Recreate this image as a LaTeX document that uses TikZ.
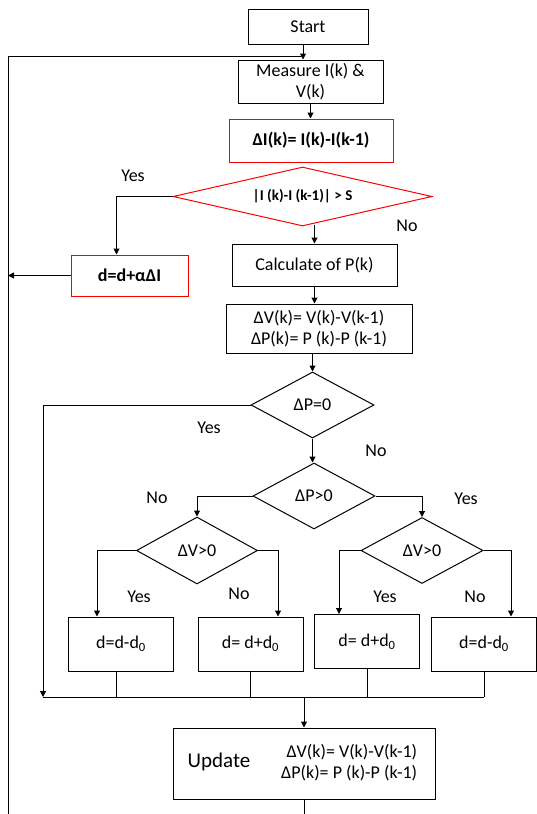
\documentclass[tikz,border=0pt]{standalone}
\usepackage{fontspec}
\setmainfont{Carlito}
\usetikzlibrary{shapes.geometric,arrows.meta}

\begin{document}
\begin{tikzpicture}[x=1pt,y=-1pt,
		font=\fontsize{18}{21}\selectfont,
		>={Triangle[length=6pt,width=6pt]},
		line width=1pt,
		box/.style={draw, rectangle, align=center, inner sep=0pt},
		redbox/.style={box, draw=red, font=\fontsize{18}{21}\selectfont\bfseries},
		dec/.style={draw, diamond, inner sep=0pt, align=center, shape aspect=1.85}]
		\useasboundingbox (0,0) rectangle (536,814);

		\node[box, minimum width=120pt, minimum height=35pt] (start) at (308,27) {Start};
		\node[box, minimum width=145pt, minimum height=43pt] (measure) at (310.5,81.5) {Measure I(k) \&\\V(k)};
		\node[redbox, minimum width=164pt, minimum height=43pt] (dI) at (311,140.5) {ΔI(k)= I(k)-I(k-1)};
		\node[dec, draw=red, shape aspect=4.4, minimum width=259pt, minimum height=59pt, font=\fontsize{15}{17}\selectfont\bfseries] (dec1) at (302.5,196.5) {|I (k)-I (k-1)| > S};
		\node[redbox, minimum width=117pt, minimum height=41pt] (dalpha) at (129.5,275.5) {d=d+αΔI};
		\node[box, minimum width=165pt, minimum height=42pt] (calc) at (314.5,265) {Calculate of P(k)};
		\node[box, minimum width=186pt, minimum height=49pt] (dvdp) at (319,328.5) {ΔV(k)= V(k)-V(k-1)\\ΔP(k)= P (k)-P (k-1)};
		\node[dec, minimum width=123pt, minimum height=66pt] (dpz) at (312.5,405) {ΔP=0};
		\node[dec, minimum width=122pt, minimum height=66pt] (dpp) at (314,496) {ΔP>0};
		\node[dec, minimum width=121pt, minimum height=67pt] (dvl) at (197,550.5) {ΔV>0};
		\node[dec, minimum width=122pt, minimum height=66pt] (dvr) at (422,550.5) {ΔV>0};
		\foreach \name/\x/\y/\txt in {b1/121/644/{d=d-d\textsubscript{0}}, b2/250.5/644/{d= d+d\textsubscript{0}}, b3/367/641.5/{d= d+d\textsubscript{0}}, b4/484/644/{d=d-d\textsubscript{0}}}{
			\node[box, minimum width=105pt, minimum height=54pt] (\name) at (\x,\y) {\txt};
		}
		\node[box, minimum width=262pt, minimum height=71pt] (update) at (304,763.5) {};
		\node[font=\fontsize{21}{24}\selectfont] (updtxt) at (219,762) {Update};
		\node[anchor=east, align=right] (updeq) at (421,763) {ΔV(k)= V(k)-V(k-1)\\ΔP(k)= P (k)-P (k-1)};

		\foreach \name/\x/\y/\txt in {ly1/133/176/Yes, ln1/407/226/No, ly2/209/428/Yes, ln2/376/451/No, ln3/157/498/No, ly3/466/499/Yes, ly4/139/597/Yes, ln4/239/594/No, ly5/385/597/Yes, ln5/475/597/No}{
			\node (\name) at (\x,\y) {\txt};
		}

		\coordinate (looptop) at (8,56);
		\coordinate (loopin) at (303,56);
		\coordinate (loopbot) at (8,815);
		\coordinate (mleft) at (43,697);
		\coordinate (mright) at (484,697);

		\draw[->] ([xshift=-5pt]start.south) -- ([xshift=-5pt]start.south |- measure.north);
		\draw[->] (measure.south) -- (measure.south |- dI.north);
		\draw[->] (dec1.west) -| ([xshift=-13pt]dalpha.north);
		\draw[->] (dalpha.west) -- (dalpha.west -| looptop);
		\draw[->] ([yshift=2pt]calc.north |- dec1.south) -- (calc.north);
		\draw[->] (calc.south) -- (calc.south |- dvdp.north);
		\draw[->] (dpz.north |- dvdp.south) -- (dpz.north);
		\draw[->] (dpz.south) -- (dpz.south |- dpp.north);
		\draw[->] (dpz.west) -| (mleft);
		\draw[->] (dpp.west) -| (dvl.north);
		\draw[->] (dpp.east) -| (dvr.north);
		\draw[->] (dvl.west) -| ([xshift=-24pt]b1.north);
		\draw[->] (dvl.east) -| ([xshift=27.5pt]b2.north);
		\draw[->] (dvr.west) -| ([xshift=-28pt]b3.north);
		\draw[->] (dvr.east) -| ([xshift=27pt]b4.north);

		\draw ([xshift=-5pt]b1.south) -- ([xshift=-5pt]b1.south |- mleft);
		\foreach \b in {b2,b3,b4}{
			\draw (\b.south) -- (\b.south |- mleft);
		}
		\draw (mleft) -- (mright);
		\draw[->] (update.north |- mleft) -- (update.north);
		\draw (update.south) -- (update.south |- loopbot) -- (loopbot) -- (looptop) -- (loopin);
	\end{tikzpicture}
\end{document}
